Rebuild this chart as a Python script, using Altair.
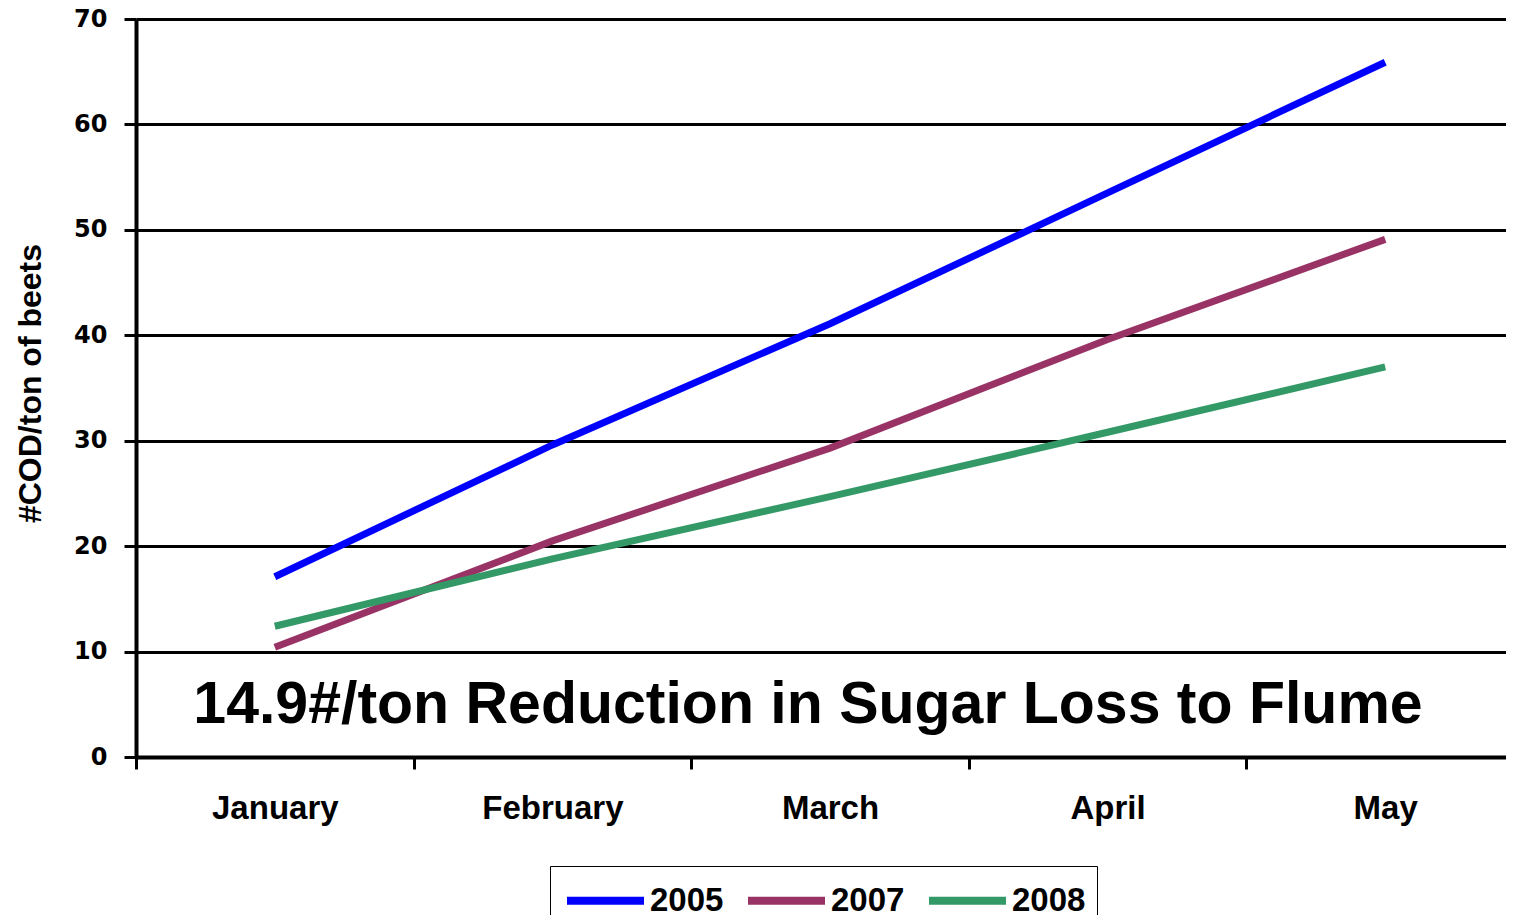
import altair as alt
import pandas as pd

months = ["January", "February", "March", "April", "May"]
years = ["2005", "2007", "2008"]
v2005 = [17.1, 29.6, 41.1, 53.5, 65.9]
v2007 = [10.4, 20.5, 29.3, 39.6, 49.1]
v2008 = [12.4, 18.8, 24.7, 30.8, 37.0]
colors = ["#0000FF", "#993366", "#339966"]
y_ticks = [0, 10, 20, 30, 40, 50, 60, 70]
note_text = ["14.9#/ton Reduction in Sugar Loss to Flume"]
note_month = ["March"]
note_value = [4.9]

rows = []
for yr, vals in zip(years, [v2005, v2007, v2008]):
    for m, v in zip(months, vals):
        rows.append({"month": m, "year": yr, "value": v})
df = pd.DataFrame(rows)
note_df = pd.DataFrame({"label": note_text, "month": note_month, "value": note_value})

x_scale = alt.Scale(type="band", paddingInner=0, paddingOuter=0, range=[0, 1388])

x_enc = alt.X(
    "month:N",
    sort=months,
    scale=x_scale,
    axis=alt.Axis(
        title=None,
        labelAngle=0,
        labelFont="Liberation Sans",
        labelFontWeight="bold",
        labelFontSize=33,
        labelColor="black",
        labelPadding=23,
        tickBand="extent",
        tickSize=12,
        tickWidth=3,
        tickColor="black",
        domainColor="black",
        domainWidth=4,
        grid=False,
    ),
)

y_scale = alt.Scale(domain=[0, 70], nice=False)

lines = alt.Chart(df).mark_line(strokeWidth=7, strokeCap="butt").encode(
    x=x_enc,
    y=alt.Y(
        "value:Q",
        scale=y_scale,
        axis=alt.Axis(
            values=y_ticks,
            title="#COD/ton of beets",
            titleFont="Liberation Sans",
            titleFontWeight="bold",
            titleFontSize=32,
            titleColor="black",
            titleAngle=270,
            titleAlign="center",
            titleBaseline="middle",
            titleX=-106,
            titleY=364,
            labelFont="DejaVu Sans",
            labelFontWeight="bold",
            labelFontSize=24,
            labelColor="black",
            labelPadding=17,
            tickSize=12,
            tickWidth=3,
            tickColor="black",
            domainColor="black",
            domainWidth=4,
            grid=True,
            gridColor="black",
            gridWidth=3,
            gridOpacity=1,
        ),
    ),
    color=alt.Color(
        "year:N",
        scale=alt.Scale(domain=years, range=colors),
        legend=alt.Legend(
            title=None,
            orient="none",
            legendX=414,
            legendY=847,
            direction="horizontal",
            columns=3,
            symbolType="M-2,0H2",
            symbolSize=1482,
            symbolOffset=21,
            symbolStrokeWidth=8,
            labelFont="Liberation Sans",
            labelFontWeight="bold",
            labelFontSize=33,
            labelColor="black",
            labelOffset=21,
            columnPadding=8,
            padding=11,
            strokeColor="black",
            fillColor="white",
        ),
    ),
)

note = alt.Chart(note_df).mark_text(
    font="Liberation Sans",
    fontWeight="bold",
    fontSize=59,
    color="black",
    baseline="middle",
    align="center",
    dx=-22,
).encode(
    x=alt.X("month:N", sort=months, scale=x_scale),
    y=alt.Y("value:Q", scale=y_scale),
    text="label:N",
)

chart = (
    alt.layer(lines, note)
    .properties(
        width=1370,
        height=738,
        autosize=alt.AutoSizeParams(type="none"),
        padding={"left": 128, "top": 11, "right": 0, "bottom": 158},
    )
    .configure_view(stroke=None)
    .configure_legend(strokeWidth=3)
    .configure(background="white")
)

chart.save("out.html", embed_options={"renderer": "svg", "actions": False})
